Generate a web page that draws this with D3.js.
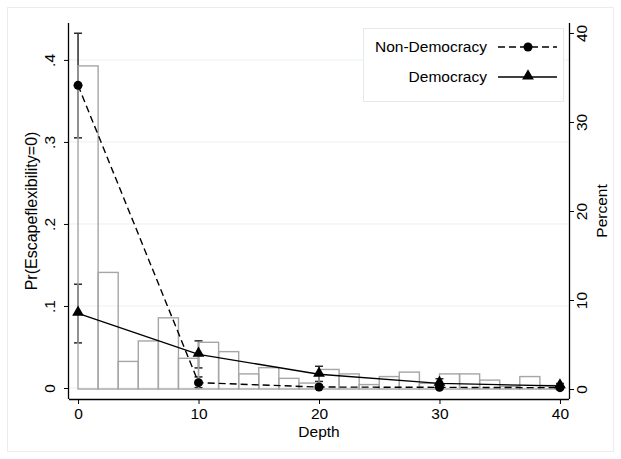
<!DOCTYPE html>
<html><head><meta charset="utf-8">
<script src="https://cdn.jsdelivr.net/npm/d3@7"></script>
<style>body{margin:0;background:#fff}svg{display:block;font-family:"Liberation Sans",Arial,sans-serif}</style>
</head><body><svg id="c" width="621" height="459"></svg>
<script>
const depth = [0, 10, 20, 30, 40];
const nondem = [0.369, 0.0065, 0.0012, 0.0008, 0.0004];
const nondemLo = [0.305, 0.0005, -0.001, -0.0005, -0.0005];
const nondemHi = [0.4325, 0.0135, 0.0035, 0.002, 0.0013];
const dem = [0.091, 0.041, 0.0167, 0.0057, 0.0025];
const demLo = [0.055, 0.0245, 0.008, 0.001, -0.0005];
const demHi = [0.1265, 0.0575, 0.0265, 0.0113, 0.0055];
const histPercent = [36.3, 13.1, 3.1, 5.4, 8.0, 3.45, 5.25, 4.2, 1.7, 2.4, 1.2, 0.67,
                     2.2, 1.7, 0.5, 1.4, 1.9, 0.64, 1.7, 1.7, 1.0, 0.3, 1.4, 0.4];
const xTicks = [0, 10, 20, 30, 40];
const yLeftTicks = [0, 0.1, 0.2, 0.3, 0.4];
const yLeftLabels = ["0", ".1", ".2", ".3", ".4"];
const yRightTicks = [0, 10, 20, 30, 40];
const legendLabels = ["Non-Democracy", "Democracy"];

const svg = d3.select("#c");
const L = 69, R = 569, T = 23, B = 399;
const x = d3.scaleLinear().domain([-0.75, 40.75]).range([L, R]);
const yL = d3.scaleLinear().domain([-0.0134, 0.445]).range([B, T]);
const yR = d3.scaleLinear().domain([-1.12, 41.12]).range([B, T]);
const binW = 40 / histPercent.length;

// outer border
svg.append("rect").attr("x", 7.5).attr("y", 7.5).attr("width", 606).attr("height", 444)
  .attr("fill", "none").attr("stroke", "#ececec");

// gridlines
svg.append("g").selectAll("line").data(yLeftTicks).join("line")
  .attr("x1", L).attr("x2", R).attr("y1", d => yL(d)).attr("y2", d => yL(d))
  .attr("stroke", "#e8f0f0").attr("stroke-width", 1);

// CIs
function ci(lo, hi, col) {
  const g = svg.append("g").attr("stroke", col).attr("stroke-width", 1.5);
  depth.forEach((d, i) => {
    const cx = x(d);
    g.append("line").attr("x1", cx).attr("x2", cx).attr("y1", yL(lo[i])).attr("y2", yL(hi[i]));
    g.append("line").attr("x1", cx - 4).attr("x2", cx + 4).attr("y1", yL(lo[i])).attr("y2", yL(lo[i]));
    g.append("line").attr("x1", cx - 4).attr("x2", cx + 4).attr("y1", yL(hi[i])).attr("y2", yL(hi[i]));
  });
}
ci(nondemLo, nondemHi, "#2a2a2a");
ci(demLo, demHi, "#2a2a2a");

// histogram
svg.append("g").selectAll("rect").data(histPercent).join("rect")
  .attr("x", (d, i) => x(i * binW))
  .attr("width", (d, i) => x((i + 1) * binW) - x(i * binW))
  .attr("y", d => yR(d))
  .attr("height", d => yR(0) - yR(d))
  .attr("fill", "none").attr("stroke", "#a6a6a6").attr("stroke-width", 1.4);

// lines
const line = d3.line().x(d => x(d[0])).y(d => yL(d[1]));
svg.append("path").attr("d", line(depth.map((d, i) => [d, nondem[i]])))
  .attr("fill", "none").attr("stroke", "#000").attr("stroke-width", 1.4).attr("stroke-dasharray", "7,4");
svg.append("path").attr("d", line(depth.map((d, i) => [d, dem[i]])))
  .attr("fill", "none").attr("stroke", "#000").attr("stroke-width", 1.4);

const circ = d3.symbol().type(d3.symbolCircle).size(64);
const tri = d3.symbol().type(d3.symbolTriangle).size(60);
svg.append("g").selectAll("path").data(depth).join("path")
  .attr("transform", (d, i) => `translate(${x(d)},${yL(nondem[i])})`).attr("d", circ()).attr("fill", "#000");
svg.append("g").selectAll("path").data(depth).join("path")
  .attr("transform", (d, i) => `translate(${x(d)},${yL(dem[i]) - 1})`).attr("d", tri()).attr("fill", "#000");

// axes
const fs = "15.5px";
const ax = svg.append("g").attr("transform", `translate(0,${B})`)
  .call(d3.axisBottom(x).tickValues(xTicks).tickSize(5).tickPadding(4).tickSizeOuter(0));
ax.select(".domain").attr("d", `M${L},0.5H${R}`).attr("stroke-width", 1.3);
ax.selectAll("text").attr("font-size", fs).attr("fill", "#000").attr("font-family", "Liberation Sans, Arial, sans-serif");

const ayl = svg.append("g").attr("transform", `translate(${L},0)`)
  .call(d3.axisLeft(yL).tickValues(yLeftTicks).tickFormat((d, i) => yLeftLabels[i]).tickSize(5).tickSizeOuter(0));
ayl.select(".domain").attr("d", `M-0.5,${T}V${B}`).attr("stroke-width", 1.3);
ayl.selectAll(".tick text").attr("font-size", fs).attr("fill", "#000")
  .attr("font-family", "Liberation Sans, Arial, sans-serif")
  .attr("transform", "rotate(-90)").attr("x", 0).attr("y", -14).attr("dy", 0).attr("text-anchor", "middle");

const ayr = svg.append("g").attr("transform", `translate(${R},0)`)
  .call(d3.axisRight(yR).tickValues(yRightTicks).tickSize(5).tickSizeOuter(0));
ayr.select(".domain").attr("d", `M0.5,${T}V${B}`).attr("stroke-width", 1.3);
ayr.selectAll(".tick text").attr("font-size", fs).attr("fill", "#000")
  .attr("font-family", "Liberation Sans, Arial, sans-serif")
  .attr("transform", "rotate(-90)").attr("x", 0).attr("y", 18).attr("dy", 0).attr("text-anchor", "middle");

svg.append("text").attr("x", (x(0)+x(40))/2).attr("y", 437).attr("text-anchor", "middle")
  .attr("font-size", fs).text("Depth");
svg.append("text").attr("transform", `translate(37,${(T+B)/2}) rotate(-90)`).attr("text-anchor", "middle")
  .attr("font-size", "16px").text("Pr(Escapeflexibility=0)");
svg.append("text").attr("transform", `translate(607,${(T+B)/2}) rotate(-90)`).attr("text-anchor", "middle")
  .attr("font-size", fs).text("Percent");

// legend
const lg = svg.append("g");
lg.append("rect").attr("x", 363.5).attr("y", 28.5).attr("width", 200).attr("height", 73)
  .attr("fill", "#fff").attr("stroke", "#e2eaea");
legendLabels.forEach((lab, i) => {
  const yy = 47 + i * 30;
  lg.append("text").attr("x", 487).attr("y", yy + 5).attr("text-anchor", "end").attr("font-size", fs).text(lab);
  lg.append("line").attr("x1", 498).attr("x2", 557).attr("y1", yy).attr("y2", yy)
    .attr("stroke", "#000").attr("stroke-width", 1.4).attr("stroke-dasharray", i === 0 ? "7,4" : null);
  lg.append("path").attr("transform", `translate(528,${yy - (i ? 1 : 0)})`).attr("d", i === 0 ? circ() : tri()).attr("fill", "#000");
});
</script></body></html>
